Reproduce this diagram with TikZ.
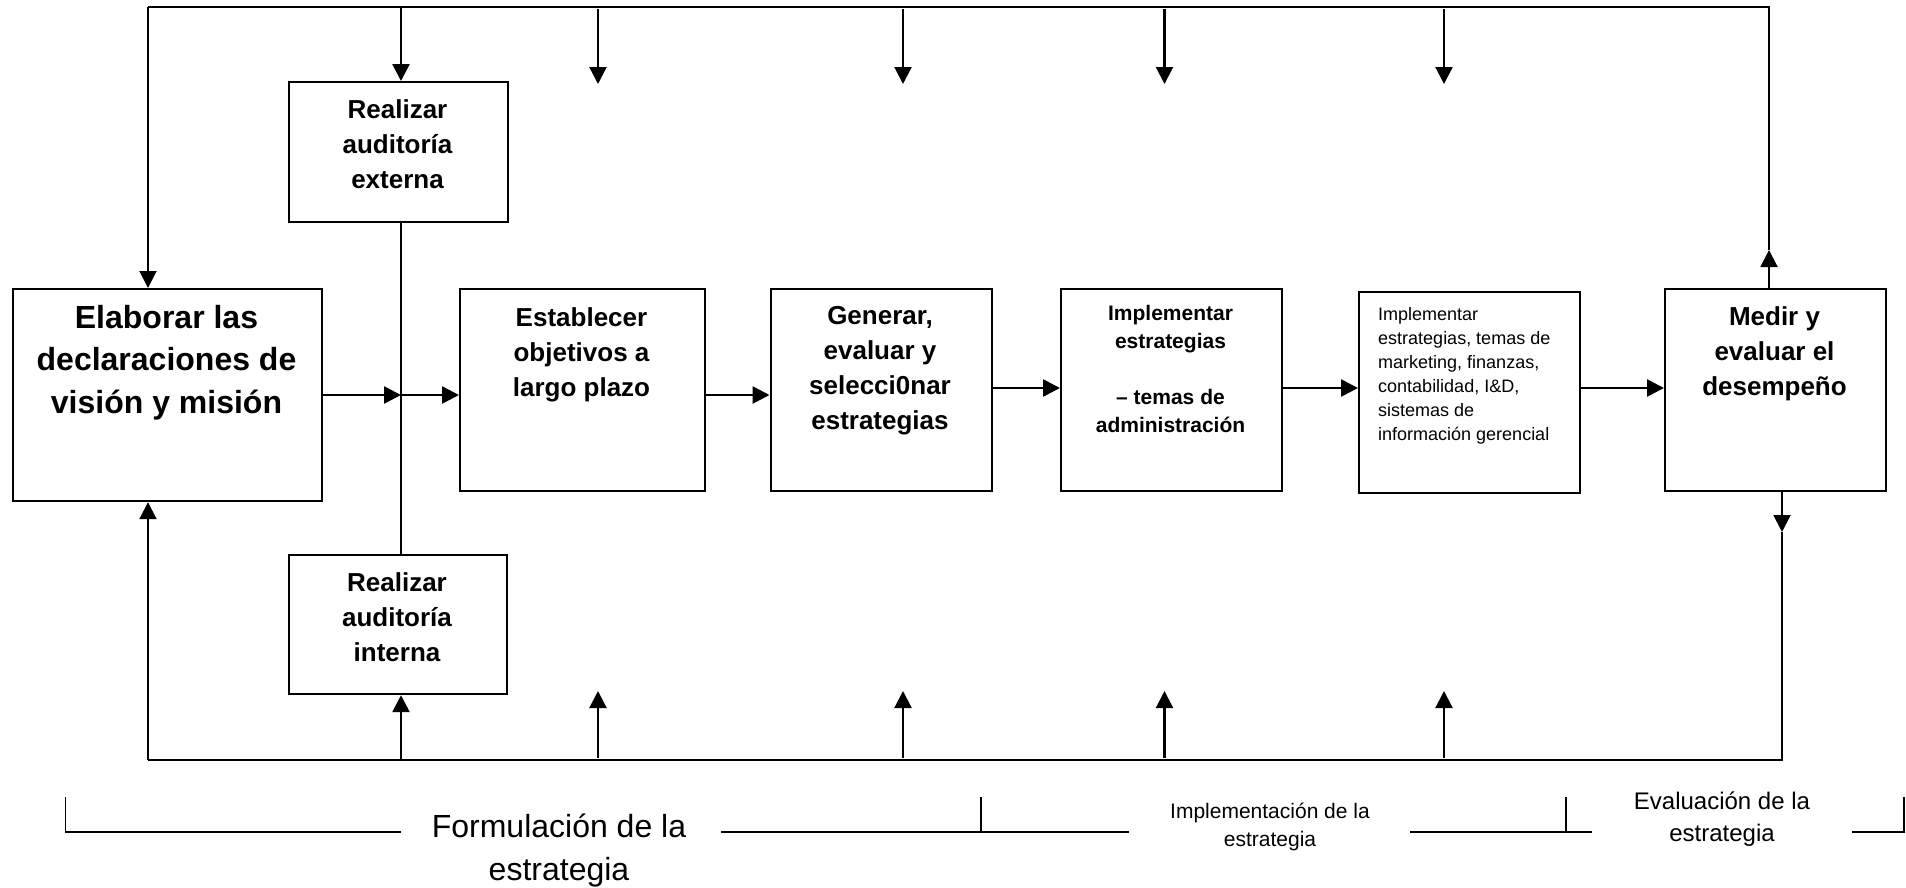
\documentclass[tikz,border=0pt]{standalone}
\usepackage{fontspec}
\setmainfont{Liberation Sans}
\usetikzlibrary{arrows.meta}
\begin{document}
\begin{tikzpicture}[x=1pt,y=-1pt,
  box/.style={draw, line width=2.2pt, inner sep=0pt, anchor=north west},
  lbl/.style={inner sep=0pt, align=center, anchor=north},
  arr/.style={line width=2.6pt, -{Triangle[length=17pt,width=17pt]}},
  fb/.style={line width=2pt},
  thinline/.style={line width=1.6pt},
  bigb/.style={font=\fontsize{32}{42.5}\selectfont\bfseries},
  midb/.style={font=\fontsize{26}{35}\selectfont\bfseries},
  smallb/.style={font=\fontsize{21}{28}\selectfont\bfseries},
]
\useasboundingbox (0,0) rectangle (1906,887);

% boxes
\node[box, minimum width=309pt, minimum height=212pt] (elab) at (12,288) {};
\node[box, minimum width=219pt, minimum height=140pt] (ext) at (288,81) {};
\node[box, minimum width=218pt, minimum height=139pt] (int) at (288,554) {};
\node[box, minimum width=245pt, minimum height=202pt] (est) at (459,288) {};
\node[box, minimum width=221pt, minimum height=202pt] (gen) at (769.5,288) {};
\node[box, minimum width=221pt, minimum height=202pt] (impb) at (1060,288) {};
\node[box, minimum width=221pt, minimum height=201.5pt] (impp) at (1358,290.5) {};
\node[box, minimum width=221pt, minimum height=202pt] (medir) at (1664,288) {};

% texts
\node[lbl, bigb] (elabT) at (166.5,305) {Elaborar las\\declaraciones de\\visión y misión};
\node[lbl, midb] (extT) at (397.5,99.5) {Realizar\\auditoría\\externa};
\node[lbl, midb] (intT) at (397,572.5) {Realizar\\auditoría\\interna};
\node[lbl, midb] (estT) at (581.5,307) {Establecer\\objetivos a\\largo plazo};
\node[lbl, midb] (genT) at (880,306) {Generar,\\evaluar y\\selecci0nar\\estrategias};
\node[lbl, smallb] (impbT) at (1170.5,305) {Implementar\\estrategias\\[28pt]– temas de\\administración};
\node[inner sep=0pt, align=left, anchor=north west, font=\fontsize{18}{24}\selectfont] (imppT) at (1378,307) {Implementar\\estrategias, temas de\\marketing, finanzas,\\contabilidad, I\&D,\\sistemas de\\información gerencial};
\node[lbl, midb] (medirT) at (1774.5,306) {Medir y\\evaluar el\\desempeño};

% key coordinates
\coordinate (tl) at (148,7);
\coordinate (tr) at (1769,7);
\coordinate (bl) at (148,760);
\coordinate (br) at (1782,760);
\coordinate (j) at (401,395);
\coordinate (r) at (0,388);
\coordinate (mup) at (1769,250);
\coordinate (mdn) at (1782,532);

% feedback loop
\draw[fb] (mup) -- (tr) -- (tl);
\draw[arr, line width=2pt] (tl) -- (tl |- elab.north);
\draw[arr, line width=2pt] (medir.north -| mup) -- (mup);
\draw[arr, line width=2pt] (medir.south -| mdn) -- (mdn);
\draw[fb] (mdn) -- (br) -- (bl);
\draw[arr, line width=2pt] (bl) -- (bl |- elab.south);

% audits
\draw[arr] (j |- tl) -- (j |- ext.north);
\draw[thinline] (j |- ext.south) -- (j |- int.north);
\draw[arr] (j |- bl) -- (j |- int.south);

% drop and rise arrows
\foreach \x [count=\i] in {598,903,1164.5,1444} {
  \coordinate (dt\i) at (\x,9);
  \coordinate (dh\i) at (\x,84);
  \coordinate (ut\i) at (\x,758);
  \coordinate (uh\i) at (\x,691);
  \draw[arr, line width=2.2pt] (dt\i) -- (dh\i);
  \draw[arr, line width=2.2pt] (ut\i) -- (uh\i);
}

% main flow
\draw[arr] (elab.east |- j) -- (j);
\draw[arr] (j) -- (j -| est.west);
\draw[arr] (est.east |- j) -- (gen.west |- j);
\draw[arr] (gen.east |- r) -- (impb.west |- r);
\draw[arr] (impb.east |- r) -- (impp.west |- r);
\draw[arr] (impp.east |- r) -- (medir.west |- r);

% phase brackets
\draw[thinline] (65.6,797) -- (65.6,832) -- (401,832);
\draw[thinline] (721,832) -- (1129,832);
\draw[thinline] (981,797) -- (981,832);
\draw[thinline] (1410,832) -- (1592,832);
\draw[thinline] (1566,797) -- (1566,832);
\draw[thinline] (1852,832) -- (1904,832) -- (1904,797);

\node[lbl, font=\fontsize{32}{43}\selectfont] (formT) at (559,814) {Formulación de la\\estrategia};
\node[lbl, font=\fontsize{21}{28}\selectfont] (implT) at (1270,802.5) {Implementación de la\\estrategia};
\node[lbl, font=\fontsize{24}{32}\selectfont] (evalT) at (1722,791.5) {Evaluación de la\\estrategia};
\end{tikzpicture}
\end{document}
